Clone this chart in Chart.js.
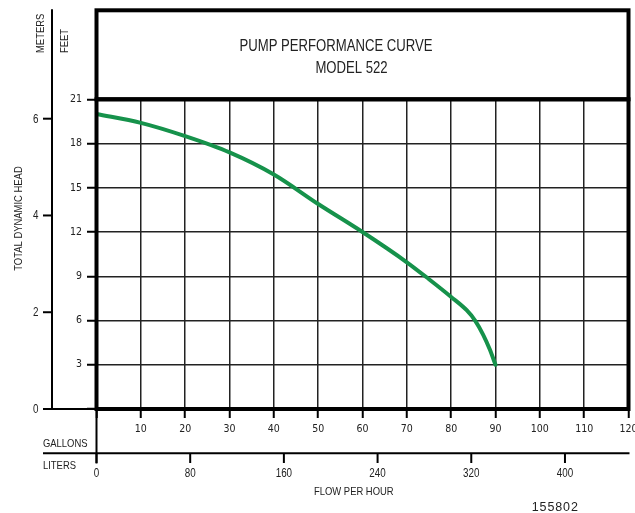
<!DOCTYPE html>
<html>
<head>
<meta charset="utf-8">
<title>Pump Performance Curve – Model 522</title>
<script src="https://cdn.jsdelivr.net/npm/chart.js@4/dist/chart.umd.min.js"></script>
<style>
  html, body { margin: 0; padding: 0; background: #fff; }
  #wrap { width: 635px; height: 513px; position: relative; }
</style>
</head>
<body>
<div id="wrap"><canvas id="c" width="635" height="513"></canvas></div>
<script>
// Flow (US gallons per hour) and total dynamic head (feet) along the curve
const flowGallons = [0, 10, 20, 30, 40, 50, 60, 70, 75, 80, 83.5, 85.4, 87.2, 88.7, 90];
const headFeet    = [20.0, 19.4, 18.5, 17.4, 15.9, 13.9, 12.0, 9.95, 8.8, 7.6, 6.7, 6.0, 5.05, 4.05, 3.0];

// Axis tick values
const gallonTicks = [0, 10, 20, 30, 40, 50, 60, 70, 80, 90, 100, 110, 120];
const feetTicks   = [0, 3, 6, 9, 12, 15, 18, 21];
const meterTicks  = [0, 2, 4, 6];
const literTicks  = [0, 80, 160, 240, 320, 400];

const FT_PER_M = 3.28084;
const L_PER_GAL = 3.78541;

const CONDENSED = "'DejaVu Sans Condensed', 'Liberation Sans', sans-serif";
const REGULAR = "'Liberation Sans', Arial, sans-serif";

Chart.defaults.font.family = CONDENSED;
Chart.defaults.color = '#222';

const setTicks = list => scale => { scale.ticks = list.map(v => ({ value: v })); };

// Title box, heavy frame, metric axes and captions
const sheetPlugin = {
  id: 'sheet',
  afterDraw(chart) {
    const { ctx, chartArea: a, scales } = chart;
    const line = (x1, y1, x2, y2) => { ctx.beginPath(); ctx.moveTo(x1, y1); ctx.lineTo(x2, y2); ctx.stroke(); };
    // narrow caption text: regular face squeezed horizontally
    const text = (s, x, y, align, size, rot) => {
      ctx.save();
      ctx.translate(x, y);
      if (rot) ctx.rotate(rot);
      ctx.scale(0.82, 1);
      ctx.font = size + 'px ' + REGULAR;
      ctx.textAlign = align;
      ctx.textBaseline = 'alphabetic';
      ctx.fillText(s, 0, 0);
      ctx.restore();
    };
    ctx.save();
    ctx.strokeStyle = '#000';
    ctx.fillStyle = '#222';

    // heavy frame around plot and title box
    ctx.lineWidth = 4;
    ctx.strokeRect(a.left, a.top, a.right - a.left, a.bottom - a.top);
    ctx.strokeRect(a.left, 10.3, a.right - a.left, a.top - 10.3);

    // metres axis
    const ym = scales.y2;
    ctx.lineWidth = 2;
    line(52, 9.3, 52, a.bottom);
    line(43, a.bottom, a.left, a.bottom);
    meterTicks.forEach(m => {
      const y = ym.getPixelForValue(m);
      line(43, y, 52, y);
      text(String(m), 38.5, y + 4, 'right', 12);
    });

    // litres axis
    const xl = scales.x2;
    const yl = 453.3;
    line(43, yl, 629.5, yl);
    line(a.left, a.bottom, a.left, 463.5);
    literTicks.forEach(l => {
      const x = xl.getPixelForValue(l);
      line(x, yl, x, 463);
      text(String(l), x, 476.5, 'center', 12);
    });

    // captions
    text('PUMP PERFORMANCE CURVE', 336, 50.7, 'center', 16);
    text('MODEL 522', 351.5, 73.3, 'center', 16);
    text('GALLONS', 43, 446.7, 'left', 11.5);
    text('LITERS', 43, 469, 'left', 11.5);
    text('FLOW PER HOUR', 314, 495, 'left', 11.5);
    text('METERS', 44, 53, 'left', 11.5, -Math.PI / 2);
    text('FEET', 68.3, 53, 'left', 11.5, -Math.PI / 2);
    text('TOTAL DYNAMIC HEAD', 21.7, 218.5, 'center', 11.5, -Math.PI / 2);

    ctx.save();
    ctx.font = '12.5px ' + REGULAR;
    ctx.letterSpacing = '0.9px';
    ctx.textAlign = 'left';
    ctx.textBaseline = 'alphabetic';
    ctx.fillText('155802', 531.7, 510.7);
    ctx.restore();

    ctx.restore();
  }
};

new Chart(document.getElementById('c'), {
  type: 'line',
  data: {
    datasets: [{
      data: flowGallons.map((g, i) => ({ x: g, y: headFeet[i] })),
      borderColor: '#16924b',
      borderWidth: 4,
      borderCapStyle: 'round',
      borderJoinStyle: 'round',
      pointRadius: 0,
      cubicInterpolationMode: 'monotone',
      xAxisID: 'x',
      yAxisID: 'y'
    }]
  },
  options: {
    responsive: false,
    animation: false,
    events: [],
    layout: { padding: { left: 0, right: 6.5, top: 99.3, bottom: 0 } },
    plugins: { legend: { display: false }, title: { display: false }, tooltip: { enabled: false } },
    scales: {
      x: {
        type: 'linear', position: 'bottom', min: 0, max: 120,
        afterBuildTicks: setTicks(gallonTicks),
        afterFit: s => { s.height = 104; s.paddingLeft = 0; s.paddingRight = 0; },
        border: { display: false },
        grid: { color: '#222', lineWidth: 1.5, tickLength: 9, tickWidth: 2, tickColor: '#000' },
        ticks: { padding: 5, autoSkip: false, maxRotation: 0, font: { size: 10.5 },
                 callback: v => v === 0 ? '' : String(v) }
      },
      y: {
        type: 'linear', position: 'left', min: 0, max: 21,
        afterBuildTicks: setTicks(feetTicks),
        afterFit: s => { s.width = 96.5; s.paddingTop = 0; s.paddingBottom = 0; },
        border: { display: false },
        grid: { color: '#222', lineWidth: 1.5, tickLength: 9.5, tickWidth: 2, tickColor: '#000' },
        ticks: { padding: 5, autoSkip: false, font: { size: 10.5 },
                 callback: v => v === 0 ? '' : String(v) }
      },
      x2: { type: 'linear', position: 'bottom', display: false, min: 0, max: 120 * L_PER_GAL },
      y2: { type: 'linear', position: 'left', display: false, min: 0, max: 21 / FT_PER_M }
    }
  },
  plugins: [sheetPlugin]
});
</script>
</body>
</html>
